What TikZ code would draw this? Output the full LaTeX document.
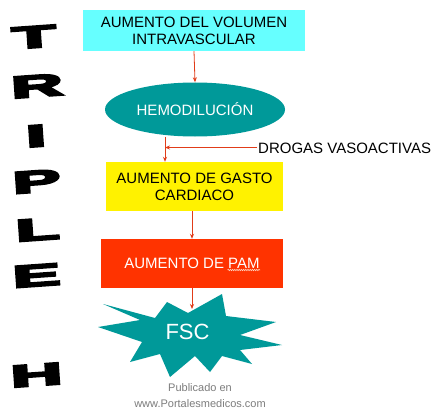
\documentclass[tikz,border=0pt]{standalone}
\usepackage{fontspec}
\setmainfont{Liberation Sans}
\newfontfamily\heavyfont[FakeBold=6]{Liberation Sans Bold}
\usetikzlibrary{arrows.meta,shapes.geometric,decorations.pathmorphing}
\definecolor{cyanbox}{RGB}{102,255,255}
\definecolor{tealc}{RGB}{0,153,153}
\definecolor{redbox}{RGB}{255,51,0}
\definecolor{arrred}{RGB}{225,60,25}
\definecolor{pubgray}{RGB}{125,125,125}
\definecolor{squig}{RGB}{255,215,195}
\newcommand{\bigletter}[1]{\rotatebox{4}{\scalebox{2.3}[1]{#1}}}
\begin{document}
\begin{tikzpicture}[x=1pt,y=-1pt,
  box/.style={rectangle, inner sep=0pt, align=center, font=\fontsize{15}{17}\selectfont},
  arr/.style={draw=arrred, line width=0.8pt, -{Stealth[length=5pt,width=4pt]}},
  letter/.style={inner sep=0pt, font=\heavyfont\fontsize{31}{31}\selectfont},
  pub/.style={inner sep=0pt, text=pubgray, font=\fontsize{11}{13}\selectfont}]
\fill[white] (0,0) rectangle (443,409);
\useasboundingbox (0,0) rectangle (443,409);

% TRIPLE H
\node[letter] (lT) at (34,37) {\bigletter{T}};
\node[letter] (lR) at (37,86) {\bigletter{R}};
\node[letter] (lI) at (36,136) {\bigletter{I}};
\node[letter] (lP) at (36.5,181.5) {\bigletter{P}};
\node[letter] (lL) at (37.5,229.5) {\bigletter{L}};
\node[letter] (lE) at (36.5,275.5) {\bigletter{E}};
\node[letter] (lH) at (36.5,375) {\bigletter{H}};

% boxes
\node[box, fill=cyanbox, minimum width=222pt, minimum height=41pt] (vol) at (194,30.5)
  {AUMENTO DEL VOLUMEN\\INTRAVASCULAR};
\node[box, ellipse, fill=tealc, text=white, minimum width=180pt, minimum height=54pt] (hemo) at (195,109.5)
  {HEMODILUCIÓN};
\node[box, fill=yellow, minimum width=177pt, minimum height=49pt] (gasto) at (194.5,186.5)
  {AUMENTO DE GASTO\\CARDIACO};
\node[box, fill=redbox, text=white, minimum width=182pt, minimum height=49pt] (pam) at (192,263.5)
  {AUMENTO DE PAM};
\draw[squig, line width=0.6pt, decorate, decoration={snake, segment length=2.2pt, amplitude=0.7pt}]
  (227.5,270) -- (260,270);

% star
\fill[tealc] (98,327) -- (140,320) -- (103,304) -- (155,318) -- (167,302) -- (188,313)
  -- (222,294) -- (226,316) -- (276,322) -- (240,335) -- (282,345) -- (240,350)
  -- (252,364) -- (222,356) -- (210,372) -- (195,356) -- (170,377) -- (160,354)
  -- (130,362) -- (142,342) -- cycle;
\node[box, text=white, font=\fontsize{22}{24}\selectfont] (fsc) at (187.5,331.5) {FSC};
\coordinate (starin) at (192,309);

\node[box, anchor=west, inner sep=1pt] (drogas) at (257,148.5) {DROGAS VASOACTIVAS};
\coordinate (j) at (165,147.5);

% connectors
\draw[arr] (vol.south) -- (hemo.north);
\draw[arr] (hemo.south -| j) -- (j |- gasto.north);
\draw[arr] (drogas.west |- j) -- (j);
\draw[arr] (gasto.south -| pam.north) -- (pam.north);
\draw[arr] (pam.south) -- (starin);

% footer
\node[pub] (pub1) at (200,388) {Publicado en};
\node[pub] (pub2) at (200,404) {www.Portalesmedicos.com};
\end{tikzpicture}
\end{document}
